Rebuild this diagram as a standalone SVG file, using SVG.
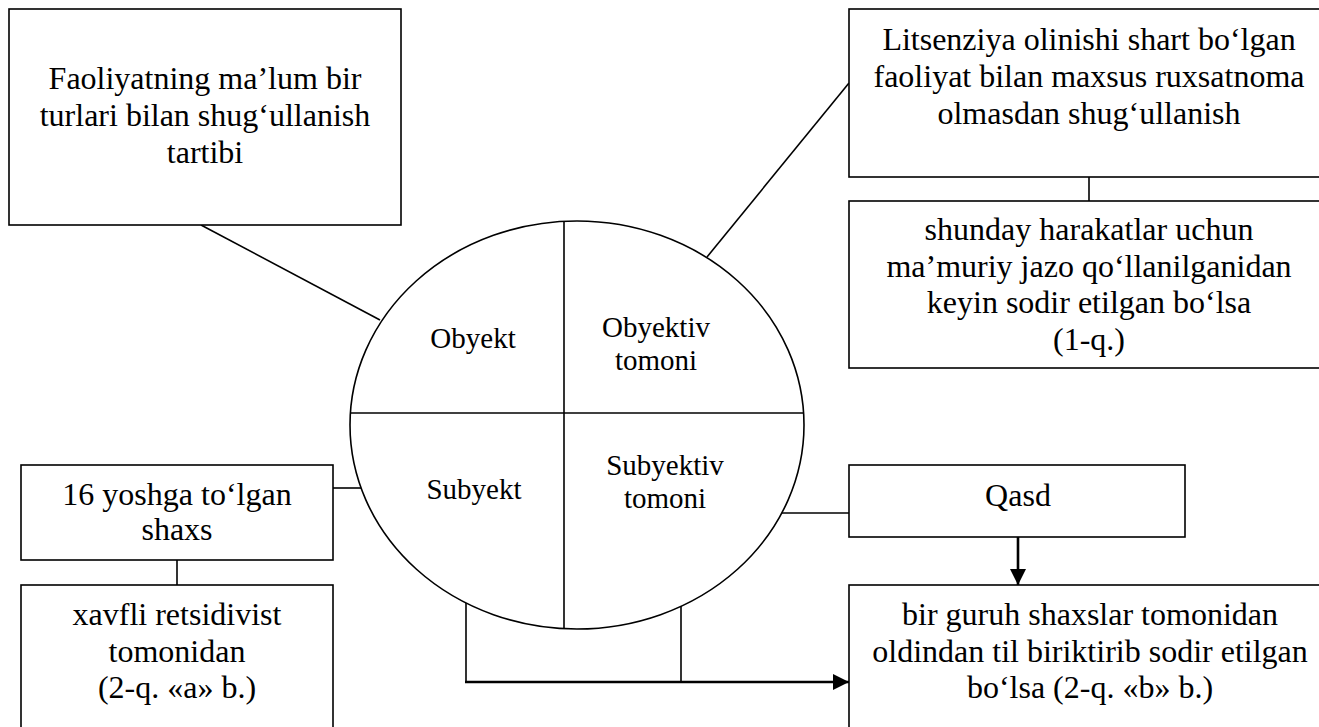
<svg xmlns="http://www.w3.org/2000/svg" width="1319" height="727" viewBox="0 0 1319 727">
<defs>
<style>
.box{fill:#fff;stroke:#000;stroke-width:1.6}
.ln{fill:none;stroke:#000;stroke-width:1.6}
.ar{fill:none;stroke:#000;stroke-width:2.6}
text{font-family:"Liberation Serif","Times New Roman",serif;fill:#000;text-anchor:middle}
.t{font-size:32px}
.s{font-size:29px}
</style>
<marker id="arr" viewBox="0 0 16 16" markerWidth="16" markerHeight="16" refX="16" refY="8" orient="auto" markerUnits="userSpaceOnUse">
<path d="M0,0 L16,8 L0,16 z" fill="#000"/>
</marker>
</defs>
<rect width="1319" height="727" fill="#fff"/>

<g id="connectors">
<line class="ln" x1="201" y1="225" x2="380" y2="320"/>
<line class="ln" x1="707" y1="257" x2="849" y2="83"/>
<line class="ln" x1="1089" y1="177" x2="1089" y2="201"/>
<line class="ln" x1="333" y1="488" x2="361" y2="488"/>
<line class="ln" x1="177" y1="560" x2="177" y2="585"/>
<line class="ln" x1="782" y1="513" x2="849" y2="513"/>
<line class="ar" x1="1018" y1="537" x2="1018" y2="585" marker-end="url(#arr)"/>
<polyline class="ln" points="466,603 466,682"/>
<line class="ln" x1="681" y1="606" x2="681" y2="682"/>
<line class="ar" x1="465" y1="682" x2="849" y2="682" marker-end="url(#arr)"/>
</g>

<g id="center">
<ellipse class="box" cx="577" cy="425" rx="227" ry="204"/>
<line class="ln" x1="564" y1="221.5" x2="564" y2="628.5"/>
<line class="ln" x1="351" y1="413" x2="803" y2="413"/>
<text class="s" x="473" y="348">Obyekt</text>
<text class="s" x="656" y="337">Obyektiv</text>
<text class="s" x="656" y="370">tomoni</text>
<text class="s" x="474" y="499">Subyekt</text>
<text class="s" x="665" y="475">Subyektiv</text>
<text class="s" x="665" y="508">tomoni</text>
</g>

<g id="n-faoliyat">
<rect class="box" x="9" y="9" width="392" height="216"/>
<text class="t" x="205" y="89">Faoliyatning ma’lum bir</text>
<text class="t" x="205" y="126">turlari bilan shug‘ullanish</text>
<text class="t" x="205" y="163">tartibi</text>
</g>

<g id="n-litsenziya">
<rect class="box" x="849" y="9" width="490" height="168"/>
<text class="t" x="1089" y="50">Litsenziya olinishi shart bo‘lgan</text>
<text class="t" x="1089" y="87">faoliyat bilan maxsus ruxsatnoma</text>
<text class="t" x="1089" y="124">olmasdan shug‘ullanish</text>
</g>

<g id="n-jazo">
<rect class="box" x="849" y="201" width="490" height="167"/>
<text class="t" x="1089" y="240">shunday harakatlar uchun</text>
<text class="t" x="1089" y="277">ma’muriy jazo qo‘llanilganidan</text>
<text class="t" x="1089" y="313">keyin sodir etilgan bo‘lsa</text>
<text class="t" x="1089" y="350">(1-q.)</text>
</g>

<g id="n-yosh">
<rect class="box" x="21" y="465" width="312" height="95"/>
<text class="t" x="177" y="505">16 yoshga to‘lgan</text>
<text class="t" x="177" y="540">shaxs</text>
</g>

<g id="n-retsidivist">
<rect class="box" x="21" y="585" width="312" height="160"/>
<text class="t" x="177" y="625">xavfli retsidivist</text>
<text class="t" x="177" y="662">tomonidan</text>
<text class="t" x="177" y="698">(2-q. «a» b.)</text>
</g>

<g id="n-qasd">
<rect class="box" x="849" y="465" width="336" height="72"/>
<text class="t" x="1018" y="506">Qasd</text>
</g>

<g id="n-guruh">
<rect class="box" x="849" y="585" width="490" height="160"/>
<text class="t" x="1090" y="625">bir guruh shaxslar tomonidan</text>
<text class="t" x="1090" y="662">oldindan til biriktirib sodir etilgan</text>
<text class="t" x="1090" y="698">bo‘lsa (2-q. «b» b.)</text>
</g>
</svg>
